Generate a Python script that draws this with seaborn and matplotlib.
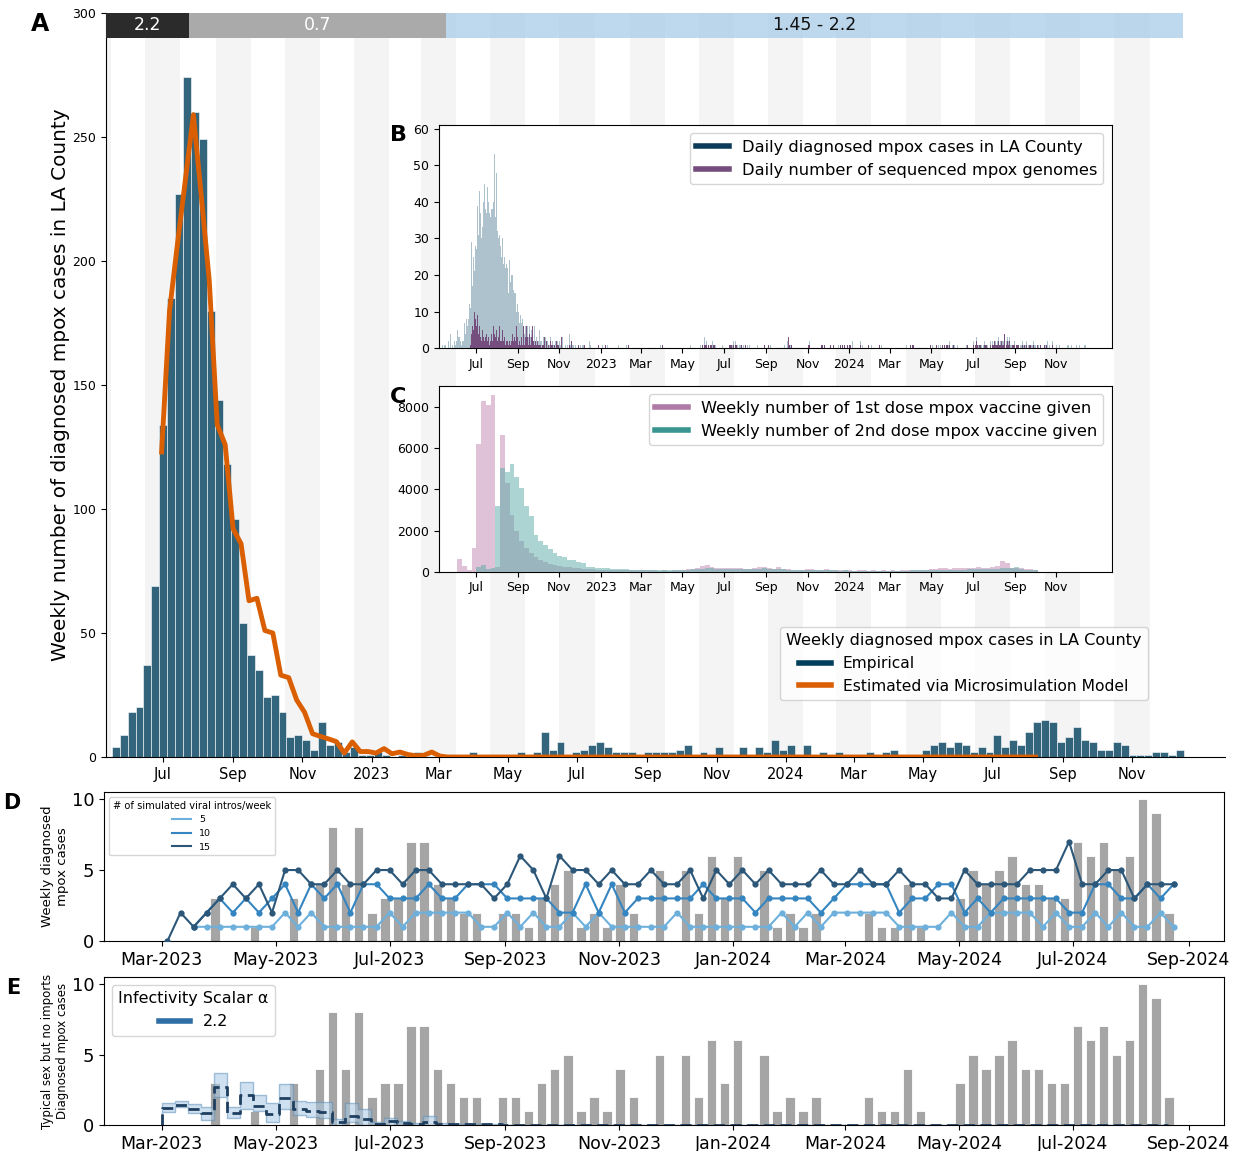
import numpy as np
import pandas as pd
import matplotlib
matplotlib.use("Agg")
import matplotlib.pyplot as plt
import matplotlib.dates as mdates
from matplotlib.lines import Line2D
from matplotlib.ticker import FuncFormatter
import seaborn as sns

plt.rcParams['font.family'] = ['DejaVu Sans']

# ---------------- Panel A data ----------------
weekly_start = "2022-05-17"
weekly_cases = [4, 9, 18, 20, 37, 69, 134, 185, 227, 274,
                260, 249, 180, 144, 118, 96, 54, 41, 35, 24,
                25, 18, 8, 9, 7, 3, 14, 5, 6, 2,
                4, 1, 1, 2, 1, 0, 1, 0, 2, 0,
                0, 0, 0, 0, 0, 2, 0, 0, 0, 0,
                0, 2, 0, 2, 10, 3, 6, 0, 2, 3,
                5, 6, 4, 2, 2, 2, 0, 2, 2, 2,
                2, 3, 5, 0, 2, 0, 4, 0, 0, 4,
                0, 4, 2, 7, 3, 5, 0, 5, 0, 2,
                0, 2, 0, 0, 0, 2, 0, 2, 3, 0,
                0, 0, 3, 5, 6, 4, 6, 5, 2, 4,
                2, 9, 4, 7, 5, 10, 14, 15, 14, 6,
                8, 12, 7, 6, 3, 3, 6, 5, 1, 1,
                1, 2, 2, 1, 3]
model_start = "2022-06-30"
model_cases = [123, 180, 207, 233, 259, 226, 192, 134, 126, 92,
               86, 63, 64, 51, 50, 33, 32, 23, 18, 9.4,
               8.3, 7.3, 6.2, 1.6, 6.1, 2.2, 2.2, 1.6, 3.4, 1.3,
               2.0, 1.0, 0.5, 0.7, 2.0, 0.4] + [0] * 75
phase_labels = ["2.2", "0.7", "1.45 - 2.2"]
phase_starts = ["2022-05-01", "2022-07-24", "2023-03-08"]
phase_ends = ["2022-07-24", "2023-03-08", "2024-12-16"]

# ---------------- Panel B data (daily) ----------------
daily_start = "2022-05-10"
daily_cases_wave = [
    0, 0, 0, 1, 2, 0, 1,   0, 1, 0, 1, 0, 2, 0,   1, 4, 0, 2, 1, 0, 3,
    2, 1, 3, 2, 5, 2, 3,   3, 1, 2, 1, 9, 2, 2,   5, 7, 4, 8, 6, 6, 8,
    10, 12, 11, 15, 29, 17, 21,   25, 21, 30, 28, 27, 33, 39,
    31, 35, 43, 37, 40, 30, 33,   40, 36, 45, 38, 58, 37, 44,
    36, 40, 37, 37, 36, 38, 42,   38, 40, 37, 53, 36, 36, 48,
    32, 35, 30, 31, 28, 33, 25,   30, 26, 23, 25, 18, 22, 23,
    19, 22, 15, 18, 24, 18, 26,   20, 20, 15, 16, 15, 12, 15,
    10, 12, 9, 10, 7, 8, 9,   7, 5, 8, 6, 5, 4, 6,
    5, 3, 6, 4, 3, 6, 4,   3, 5, 3, 4, 2, 6, 3,
    2, 3, 2, 1, 2, 3, 5,   2, 6, 2, 1, 2, 3, 2,
    1, 3, 2, 1, 2, 0, 2,   1, 3, 1, 0, 2, 1, 0,
    1, 2, 0, 1, 2, 1, 1,   2, 0, 1, 0, 1, 3, 0,
    1, 0, 1, 0, 0, 1, 0,   2, 4, 1, 3, 2, 1, 1,
    1, 0, 2, 1, 0, 1, 0,   1, 2, 0, 1, 1, 0, 1,
    0, 1, 0, 0, 1, 0, 0,   1, 0, 2, 0, 1, 0, 0]
daily_cases_tail = """
0010000 0000100 1000010 0100000 0000000 0001000 0000000 0100100 0000000 0000000
0000000 0000000 0000000 0000000 0010010 0000000 0000000 0000000 0000000 0000000
1000100 0000000 0100010 2103112 1010010 1201101 0000000 0110000 1001010 1101200
2011011 1010110 0100100 1000010 0010100 0000000 0100001 1001000 0010010 0100100
1010001 2010110 0000000 0100100 0000000 1010200 0000000 0000000 0110110 0000000
1020100 0100010 1201201 1001100 1100210 0000000 0120110 0000000 1000100 0000000
0010010 0000000 0000000 0000000 0100100 0000000 1000010 0101010 0000000 0000000
0000000 1001010 0110210 1101201 1010110 2010111 1100210 0100100 1001110 0010010
2101311 1011010 1120111 1010210 2112211 2231222 3222402 2312312 1101210 1211201
2123112 1201111 1101201 1001010 0101001 1110201 1010210 0001000 0100000 0000010
1000100 0100010 0010000 1010100
"""
daily_genomes_wave = [
    0, 0, 0, 0, 0, 0, 0,   0, 0, 0, 0, 0, 0, 0,   0, 0, 0, 0, 0, 0, 0,
    0, 0, 0, 0, 0, 0, 0,   0, 0, 0, 0, 0, 0, 0,   0, 0, 0, 0, 1, 0, 0,
    0, 0, 1, 2, 4, 6, 9,   5, 10, 14, 8, 6, 3, 9,
    4, 2, 6, 3, 1, 2, 5,   3, 8, 2, 3, 10, 4, 2,
    2, 3, 1, 5, 2, 4, 3,   2, 6, 2, 4, 3, 2, 5,
    2, 1, 3, 6, 2, 1, 2,   5, 1, 2, 3, 2, 1, 2,
    1, 2, 1, 3, 2, 1, 6,   2, 4, 1, 2, 3, 6, 2,
    6, 3, 2, 1, 2, 2, 1,   3, 2, 1, 6, 2, 1, 3,
    2, 6, 3, 2, 1, 4, 2,   1, 3, 2, 6, 2, 1, 3,
    2, 1, 3, 2, 1, 2, 1,   1, 2, 0, 1, 2, 1, 3,
    1, 0, 2, 1, 0, 1, 0,   0, 2, 1, 0, 1, 0, 1,
    1, 0, 0, 2, 1, 0, 1,   0, 1, 0, 3, 1, 0, 0,
    1, 0, 0, 1, 0, 0, 0,   0, 1, 0, 0, 2, 0, 1,
    0, 0, 1, 0, 0, 1, 0,   1, 0, 0, 0, 1, 0, 0,
    0, 0, 1, 0, 0, 0, 0,   0, 0, 0, 1, 0, 0, 0]
daily_genomes_tail = """
0000000 0010000 0000010 0000000 0000000 0000000 0000000 0000100 0000000 0000000
0000000 0000000 0000000 0000000 0000010 0000000 0000000 0000000 0000000 0000000
0000000 0000000 0100000 1101011 0010010 1001100 0000000 0100000 0001010 1100100
1010010 0010100 0100000 0000010 0010000 0000000 0100000 1000000 0010010 0000100
1001000 0310010 0000000 0100000 0000000 1010100 0000000 0000000 0110010 0000000
1000100 0100000 1101301 0001100 1100010 0000000 0110100 0000000 1000000 0000000
0010000 0000000 0000000 0000000 0100000 0000000 0000010 0101000 0000000 0000000
0000000 1000010 0110100 1001201 0010100 1010011 0100300 0000100 1001010 0010010
1101211 0011000 1010110 0010110 1102101 1221112 2112401 1211201 0101100 1011100
1012011 0101010 1000100 0001000 0100001 1010000 0000100 0000000 0000000 0000000
0000000 0200000 0000000 0000000
"""

# ---------------- Panel C data (weekly vaccine doses) ----------------
vax_start = "2022-06-04"
dose1 = [600, 270, 60, 1170, 6230, 8300, 8090, 8600, 250, 6630,
         4300, 2750, 2000, 1500, 1150, 900, 700, 550, 450, 380,
         330, 300, 250, 220, 190, 160, 140, 120, 110, 100,
         100, 90, 90, 80, 80, 70, 80, 70, 60, 70,
         60, 60, 50, 60, 50, 60, 70, 90, 120, 150,
         180, 260, 330, 250, 200, 180, 200, 190, 170, 160,
         150, 140, 170, 230, 250, 180, 150, 230, 150, 120,
         100, 90, 100, 110, 120, 100, 80, 150, 80, 70,
         60, 70, 60, 50, 60, 60, 50, 60, 50, 60,
         50, 60, 50, 60, 70, 80, 90, 100, 90, 110,
         150, 200, 180, 150, 160, 170, 160, 200, 190, 220,
         200, 180, 230, 260, 500, 420, 200, 180, 170, 150,
         120, 80]
dose2 = [0, 0, 0, 0, 230, 350, 150, 200, 3190, 5065,
         4850, 5230, 4610, 4050, 3200, 2700, 1800, 1500, 1300, 1100,
         900, 750, 700, 550, 580, 480, 400, 250, 220, 200,
         180, 160, 150, 130, 120, 110, 100, 100, 90, 90,
         80, 80, 70, 70, 60, 60, 70, 80, 100, 110,
         120, 150, 180, 160, 150, 140, 150, 150, 140, 130,
         120, 120, 130, 150, 160, 140, 120, 150, 120, 100,
         90, 80, 80, 90, 90, 80, 70, 90, 70, 60,
         50, 60, 50, 40, 50, 50, 40, 50, 40, 50,
         40, 50, 40, 50, 50, 60, 60, 70, 60, 70,
         80, 100, 100, 90, 100, 100, 100, 110, 110, 120,
         120, 110, 130, 150, 180, 170, 200, 210, 150, 100,
         80, 60]

# ---------------- Panels D/E data ----------------
sim_start = "2023-03-04"
emp_2023 = [0, 0, 0, 0,
            3, 0, 0, 1, 0, 0, 3, 0, 4, 8, 4, 8, 2, 3, 3, 7,
            7, 4, 3, 2, 2, 0, 2, 2, 1, 3, 4, 5, 1, 2, 1, 4,
            2, 0, 5, 0, 5, 2, 6, 3, 6, 0, 5, 1, 2, 1, 2, 0,
            0, 0, 2, 1, 1, 4, 1, 0, 0, 3, 5, 4, 5, 6, 4, 4,
            3, 3, 7, 6, 7, 5, 6, 10, 9, 2]
intros_15 = [0, 2, 1, 2, 3, 4, 3, 4, 2, 5, 5, 4, 4, 5, 4, 4, 5, 5, 4, 5,
             5, 4, 4, 4, 4, 3, 4, 6, 5, 3, 6, 5, 5, 4, 5,
             4, 4, 5, 4, 4, 5, 3, 5, 4, 5, 4, 5, 4, 4, 4, 5, 4, 4, 5, 4,
             4, 5, 4, 4, 3, 3, 5, 4, 4, 4, 4, 5, 5, 5, 7, 4, 4, 5, 5, 3,
             4, 4, 4]
intros_10 = [np.nan, np.nan,
             1, 2, 3, 2, 3, 2, 3, 4, 2, 4, 3, 4, 2, 4, 4, 3, 3, 3, 4, 3,
             3, 4, 4, 4, 3, 3, 3, 3, 2, 2, 4, 2, 4,
             2, 3, 3, 3, 3, 3, 4, 3, 3, 3, 2, 3, 3, 3, 3, 2, 3, 4, 4, 4,
             4, 2, 3, 3, 4, 4, 2, 3, 2, 3, 3, 3, 3, 3, 2, 2, 4, 4, 3, 3,
             4, 3, 4]
intros_5 = [np.nan, np.nan,
            1, 1, 1, 1, 1, 1, 1, 2, 1, 2, 1, 1, 1, 1, 1, 2, 1, 2, 2, 2,
            2, 2, 1, 1, 2, 1, 2, 1, 1, 2, 1, 2, 1,
            1, 1, 1, 1, 2, 1, 1, 1, 1, 1, 1, 1, 2, 1, 2, 1, 2, 2, 2, 2,
            2, 1, 1, 1, 1, 2, 1, 1, 2, 2, 2, 2, 1, 2, 1, 1, 2, 1, 2, 1,
            1, 2, 1]
typical_start = "2023-03-01"
typical_mean = [0, 1.2, 1.4, 1.1, 0.85, 2.7, 0.85, 2.1, 1.35, 0.8,
                1.95, 1.1, 1.0, 0.95, 0.2, 0.65, 0.45, 0.1, 0.25, 0.15,
                0.05, 0.2, 0.05, 0.05, 0.05, 0.05, 0.05] + [0] * 51
typical_lo = [0, 0.95, 1.3, 0.83, 0.36, 2.0, 0.47, 1.14, 1.0, 0.24,
              1.14, 0.71, 0.6, 0.47, 0.0, 0.19, 0.0, 0.0, 0.0, 0.0,
              0.0, 0.0, 0.0, 0.0, 0.0, 0.0, 0.0] + [0] * 51
typical_hi = [0, 1.54, 1.7, 1.47, 1.3, 3.67, 1.3, 3.08, 2.13, 1.54,
              2.91, 1.7, 1.6, 1.6, 0.43, 1.54, 1.14, 0.24, 0.52, 0.28,
              0.14, 0.64, 0.14, 0.1, 0.1, 0.1, 0.1] + [0] * 51

# ---------------- helpers ----------------
def digits(s):
    return [int(c) for c in s if c.isdigit()]

def month_label(x, pos=None):
    d = mdates.num2date(x)
    return str(d.year) if d.month == 1 else d.strftime('%b')

W, H = 1237, 1151
fig = plt.figure(figsize=(W / 100, H / 100), dpi=100)

def box(l, t, r, b):
    return [l / W, 1 - b / H, (r - l) / W, (b - t) / H]

week_dates = pd.date_range(weekly_start, periods=len(weekly_cases), freq="7D")
model_dates = pd.date_range(model_start, periods=len(model_cases), freq="7D")
tick_dates = pd.date_range("2022-07-01", "2024-11-01", freq="2MS")
shade_dates = pd.date_range("2022-05-01", "2024-11-01", freq="2MS")
xlim_main = (pd.Timestamp("2022-05-12"), pd.Timestamp("2025-01-22"))

# ---------------- Panel A ----------------
axA = fig.add_axes(box(106, 13, 1225, 757))
for t in shade_dates:
    axA.axvspan(t - pd.Timedelta(days=15.5), t + pd.Timedelta(days=15.5),
                color='#f4f4f4', lw=0, zorder=0)
axA.bar(week_dates, weekly_cases, width=7, align='edge', color='#003f5c',
        alpha=0.8, edgecolor='white', linewidth=0.5, zorder=2)
sns.lineplot(x=model_dates, y=model_cases, ax=axA, color='#d95f02', lw=3.5,
             zorder=3)
phase_colors = ['#2b2b2b', '#aaaaaa', '#a9cde8']
phase_alpha = [1, 1, 0.75]
phase_text = ['white', 'white', '#111111']
for lab, s, e, c, a, tc in zip(phase_labels, phase_starts, phase_ends,
                               phase_colors, phase_alpha, phase_text):
    s, e = pd.Timestamp(s), pd.Timestamp(e)
    axA.fill_between([s, e], 290, 300, color=c, alpha=a, lw=0, zorder=4)
    mid = max(s, xlim_main[0]) + (e - max(s, xlim_main[0])) / 2
    axA.text(mid, 295, lab, color=tc, ha='center', va='center', fontsize=12.5,
             zorder=5)
axA.set_xlim(*xlim_main)
axA.set_ylim(0, 300)
axA.set_yticks(range(0, 301, 50))
axA.set_xticks(tick_dates)
axA.xaxis.set_major_formatter(FuncFormatter(month_label))
axA.tick_params(axis='x', labelsize=10.5)
axA.tick_params(axis='y', labelsize=9)
axA.spines['top'].set_visible(False)
axA.spines['right'].set_visible(False)
axA.set_ylabel("Weekly number of diagnosed mpox cases in LA County",
               fontsize=14.4, labelpad=2)
axA.set_xlabel("")
hA = [Line2D([0], [0], color='#003f5c', lw=4),
      Line2D([0], [0], color='#d95f02', lw=4)]
axA.legend(hA, ["Empirical", "Estimated via Microsimulation Model"],
           title="Weekly diagnosed mpox cases in LA County",
           loc='lower right', bbox_to_anchor=(0.938, 0.066),
           fontsize=11.2, title_fontsize=11.6)

# ---------------- Panel B ----------------
cases_daily = daily_cases_wave + digits(daily_cases_tail)
genomes_daily = daily_genomes_wave + digits(daily_genomes_tail)
day_dates = pd.date_range(daily_start, periods=len(cases_daily), freq="D")
gen_dates = pd.date_range(daily_start, periods=len(genomes_daily), freq="D")
xlim_in = (pd.Timestamp("2022-05-08"), pd.Timestamp("2025-01-21"))

axB = fig.add_axes(box(439, 125, 1111.5, 348.3))
axB.bar(day_dates, cases_daily, width=1.0, color='#3d6e86', alpha=0.42,
        linewidth=0, zorder=2)
axB.bar(gen_dates, genomes_daily, width=1.0, color='#6b3a70', alpha=0.85,
        linewidth=0, zorder=3)
axB.set_xlim(*xlim_in)
axB.set_ylim(0, 61)
axB.set_yticks(range(0, 61, 10))
axB.set_xticks(tick_dates)
axB.xaxis.set_major_formatter(FuncFormatter(month_label))
axB.tick_params(labelsize=9)
hB = [Line2D([0], [0], color='#0b3b58', lw=4),
      Line2D([0], [0], color='#744d7c', lw=4)]
axB.legend(hB, ["Daily diagnosed mpox cases in LA County",
                "Daily number of sequenced mpox genomes"],
           loc='upper right', fontsize=11.7)

# ---------------- Panel C ----------------
vax_dates = pd.date_range(vax_start, periods=len(dose1), freq="7D")
axC = fig.add_axes(box(439, 386, 1111.5, 571.7))
axC.bar(vax_dates, dose1, width=7, align='edge', color='#c890b8', alpha=0.55,
        linewidth=0, zorder=2)
axC.bar(vax_dates, dose2, width=7, align='edge', color='#58aaa6', alpha=0.5,
        linewidth=0, zorder=3)
axC.set_xlim(*xlim_in)
axC.set_ylim(0, 9030)
axC.set_yticks(range(0, 8001, 2000))
axC.set_xticks(tick_dates)
axC.xaxis.set_major_formatter(FuncFormatter(month_label))
axC.tick_params(labelsize=9)
hC = [Line2D([0], [0], color='#b07aa6', lw=4),
      Line2D([0], [0], color='#3a9590', lw=4)]
axC.legend(hC, ["Weekly number of 1st dose mpox vaccine given",
                "Weekly number of 2nd dose mpox vaccine given"],
           loc='upper right', fontsize=11.7)

# ---------------- Panels D & E ----------------
sim_dates = pd.date_range(sim_start, periods=len(intros_15), freq="7D")
bar_left = sim_dates - pd.Timedelta(days=5)
de_ticks = pd.date_range("2023-03-01", "2024-09-01", freq="2MS")
xlim_de = (pd.Timestamp("2023-01-29"), pd.Timestamp("2024-09-20"))

axD = fig.add_axes(box(104, 792, 1224, 941))
axD.bar(bar_left, emp_2023, width=5, align='edge', color='#a5a5a5',
        edgecolor='white', linewidth=0.6, zorder=1)
df_d = pd.DataFrame({
    "date": list(sim_dates) * 3,
    "cases": intros_5 + intros_10 + intros_15,
    "intros": [5] * len(sim_dates) + [10] * len(sim_dates) + [15] * len(sim_dates),
}).dropna()
pal = {5: '#6eb0dc', 10: '#3585c1', 15: '#2c5778'}
sns.lineplot(data=df_d, x="date", y="cases", hue="intros", palette=pal,
             marker='o', markersize=4.5, markeredgewidth=0, lw=1.5, ax=axD,
             zorder=3, legend=False)
axD.set_xlim(*xlim_de)
axD.set_ylim(0, 10.5)
axD.set_yticks([0, 5, 10])
axD.set_xticks(de_ticks)
axD.xaxis.set_major_formatter(mdates.DateFormatter('%b-%Y'))
axD.tick_params(axis='x', labelsize=12.5)
axD.tick_params(axis='y', labelsize=13)
axD.set_xlabel("")
axD.set_ylabel("Weekly diagnosed\nmpox cases", fontsize=9.5, labelpad=2)
hD = [Line2D([0], [0], color=pal[k], lw=1.5) for k in (5, 10, 15)]
axD.legend(hD, ["5", "10", "15"], title="# of simulated viral intros/week",
           loc='upper left', fontsize=6.8, title_fontsize=7.1)

typ_dates = pd.date_range(typical_start, periods=len(typical_mean), freq="7D")
axE = fig.add_axes(box(104, 977, 1224, 1125))
axE.bar(bar_left, emp_2023, width=5, align='edge', color='#a5a5a5',
        edgecolor='white', linewidth=0.6, zorder=1)
axE.fill_between(typ_dates, typical_lo, typical_hi, step='pre',
                 facecolor='#a9c9e4', alpha=0.55, edgecolor='#5d8fbc', lw=1,
                 zorder=2)
sns.lineplot(x=typ_dates, y=typical_mean, ax=axE, drawstyle='steps-pre',
             color='#1f3f60', lw=2, linestyle=(0, (4, 2)), zorder=3)
axE.set_xlim(*xlim_de)
axE.set_ylim(0, 10.5)
axE.set_yticks([0, 5, 10])
axE.set_xticks(de_ticks)
axE.xaxis.set_major_formatter(mdates.DateFormatter('%b-%Y'))
axE.tick_params(axis='x', labelsize=12.5)
axE.tick_params(axis='y', labelsize=13)
axE.set_ylabel("Typical sex but no imports\nDiagnosed mpox cases",
               fontsize=8.5, labelpad=2)
axE.legend([Line2D([0], [0], color='#2f6ea5', lw=4)], ["2.2"],
           title="Infectivity Scalar \u03b1", loc='upper left',
           fontsize=11.5, title_fontsize=11.5)

# ---------------- panel letters ----------------
for lab, x, y, fs in [("A", 40, 24, 17), ("B", 398, 135, 16),
                      ("C", 398, 397, 16), ("D", 12, 803, 15),
                      ("E", 13, 988, 15)]:
    fig.text(x / W, 1 - y / H, lab, fontsize=fs, fontweight='bold',
             ha='center', va='center')

fig.savefig("out.png", dpi=100)
